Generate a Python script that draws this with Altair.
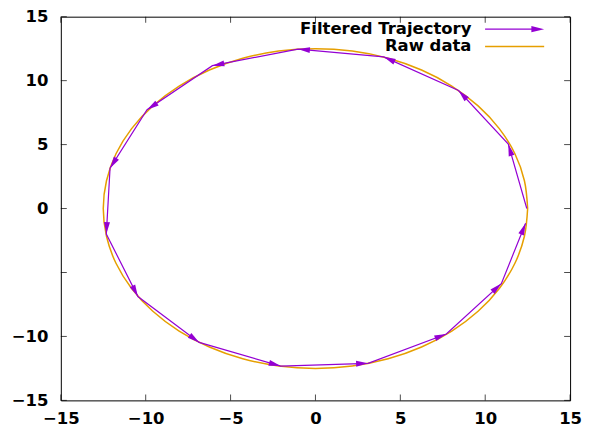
import math
import altair as alt
import pandas as pd

# ---- data ----
series_names = ["Filtered Trajectory", "Raw data"]
tick_values = [-15, -10, -5, 0, 5, 10, 15]

traj_x = [12.45, 11.36, 8.43, 4.02, -1.03, -6.07, -9.92, -12.10, -12.32, -10.46, -6.85, -2.05, 3.10, 7.71, 10.95, 12.38]
traj_y = [0.00, 5.04, 9.23, 11.86, 12.47, 11.17, 7.72, 3.15, -2.00, -6.88, -10.47, -12.32, -12.10, -9.81, -5.87, -1.15]

raw_x = [12.50, 12.31, 11.75, 10.83, 9.58, 8.03, 6.25, 4.28, 2.17, 0.00,
         -2.17, -4.28, -6.25, -8.03, -9.58, -10.83, -11.75, -12.31, -12.50,
         -12.31, -11.75, -10.83, -9.58, -8.03, -6.25, -4.28, -2.17, 0.00,
         2.17, 4.28, 6.25, 8.03, 9.58, 10.83, 11.75, 12.31, 12.50]
raw_y = [0.00, 2.17, 4.28, 6.25, 8.03, 9.58, 10.83, 11.75, 12.31, 12.50,
         12.31, 11.75, 10.83, 9.58, 8.03, 6.25, 4.28, 2.17, 0.00,
         -2.17, -4.28, -6.25, -8.03, -9.58, -10.83, -11.75, -12.31, -12.50,
         -12.31, -11.75, -10.83, -9.58, -8.03, -6.25, -4.28, -2.17, 0.00]

# ---- styling ----
W, H = 511, 385
PURPLE = "#9400D3"
ORANGE = "#E69F00"
FONT = "DejaVu Sans"
ARROW = "M0,0L-1,-0.25L-1,0.25Z"
ARROW_SIZE = 576

traj = pd.DataFrame({"x": traj_x, "y": traj_y, "i": list(range(len(traj_x)))})
raw = pd.DataFrame({"x": raw_x, "y": raw_y, "i": list(range(len(raw_x)))})
ticks = pd.DataFrame({"v": tick_values})

sx, sy = W / 30.0, H / 30.0
heads = []
for k in range(1, len(traj_x)):
    dx = traj_x[k] - traj_x[k - 1]
    dy = traj_y[k] - traj_y[k - 1]
    ang = math.degrees(math.atan2(-dy * sy, dx * sx)) % 360
    heads.append({"x": traj_x[k], "y": traj_y[k], "ang": ang})
heads = pd.DataFrame(heads)

xs = alt.Scale(domain=[-15, 15], nice=False, zero=False)
ys = alt.Scale(domain=[-15, 15], nice=False, zero=False)

x_axis = alt.Axis(values=tick_values, grid=False, ticks=False, tickSize=0, domain=False,
                  labelFont=FONT, labelFontWeight="bold", labelFontSize=16.5,
                  labelColor="black", labelPadding=10, title=None, labelAngle=0,
                  labelFlush=False, labelOverlap=False)
y_axis = alt.Axis(values=tick_values, grid=False, ticks=False, tickSize=0, domain=False,
                  labelFont=FONT, labelFontWeight="bold", labelFontSize=16.5,
                  labelColor="black", labelPadding=13, title=None,
                  labelFlush=False, labelOverlap=False,
                  labelExpr="datum.value == -5 ? '' : datum.label")


def X(field="x"):
    return alt.X(f"{field}:Q", scale=xs, axis=x_axis)


def Y(field="y"):
    return alt.Y(f"{field}:Q", scale=ys, axis=y_axis)


raw_line = alt.Chart(raw).mark_line(color=ORANGE, strokeWidth=1.5, interpolate="cardinal").encode(
    x=X(), y=Y(), order="i:Q")

traj_line = alt.Chart(traj).mark_line(color=PURPLE, strokeWidth=1.2).encode(
    x=X(), y=Y(), order="i:Q")

traj_heads = alt.Chart(heads).mark_point(shape=ARROW, size=ARROW_SIZE, filled=True, color=PURPLE,
                                         opacity=1, strokeWidth=0).encode(
    x=X(), y=Y(), angle=alt.Angle("ang:Q", scale=None))

tick_b = alt.Chart(ticks).mark_tick(orient="vertical", size=6, thickness=1, color="black", yOffset=-3).encode(
    x=X("v"), y=alt.Y(datum=-15, scale=ys, axis=y_axis))
tick_t = alt.Chart(ticks).mark_tick(orient="vertical", size=6, thickness=1, color="black", yOffset=3).encode(
    x=X("v"), y=alt.Y(datum=15, scale=ys, axis=y_axis))
tick_l = alt.Chart(ticks).mark_tick(orient="horizontal", size=6, thickness=1, color="black", xOffset=3).encode(
    y=Y("v"), x=alt.X(datum=-15, scale=xs, axis=x_axis))
tick_r = alt.Chart(ticks).mark_tick(orient="horizontal", size=6, thickness=1, color="black", xOffset=-3).encode(
    y=Y("v"), x=alt.X(datum=15, scale=xs, axis=x_axis))

# ---- legend (gnuplot style: label left of sample) ----
leg1 = pd.DataFrame({"label": [series_names[0]]})
leg2 = pd.DataFrame({"label": [series_names[1]]})
ROW1, ROW2 = 12.5, 29.8
TEXT_X, S0, S1 = 412, 425.7, 485

leg_text1 = alt.Chart(leg1).mark_text(align="right", baseline="middle", font=FONT, fontWeight="bold",
                                      fontSize=16.5, color="black").encode(
    x=alt.value(TEXT_X), y=alt.value(ROW1), text="label:N")
leg_text2 = alt.Chart(leg2).mark_text(align="right", baseline="middle", font=FONT, fontWeight="bold",
                                      fontSize=16.5, color="black").encode(
    x=alt.value(TEXT_X), y=alt.value(ROW2), text="label:N")
leg_line1 = alt.Chart(leg1).mark_rule(color=PURPLE, strokeWidth=1.2).encode(
    x=alt.value(S0), x2=alt.value(S1 - 6), y=alt.value(ROW1))
leg_head1 = alt.Chart(leg1).mark_point(shape=ARROW, size=ARROW_SIZE * 1.15, filled=True, color=PURPLE,
                                       opacity=1, strokeWidth=0, angle=0).encode(
    x=alt.value(S1), y=alt.value(ROW1))
leg_line2 = alt.Chart(leg2).mark_rule(color=ORANGE, strokeWidth=1.5).encode(
    x=alt.value(S0), x2=alt.value(S1), y=alt.value(ROW2))

chart = alt.layer(
    raw_line, traj_line, traj_heads,
    tick_b, tick_t, tick_l, tick_r,
    leg_text1, leg_text2, leg_line1, leg_head1, leg_line2,
).properties(
    width=W, height=H,
    padding={"left": 53, "top": 8, "right": 25, "bottom": 28},
    autosize=alt.AutoSizeParams(type="none"),
    background="white",
).configure_view(stroke="black", strokeWidth=1)

chart.save("out.html", embed_options={"renderer": "svg", "actions": False})
